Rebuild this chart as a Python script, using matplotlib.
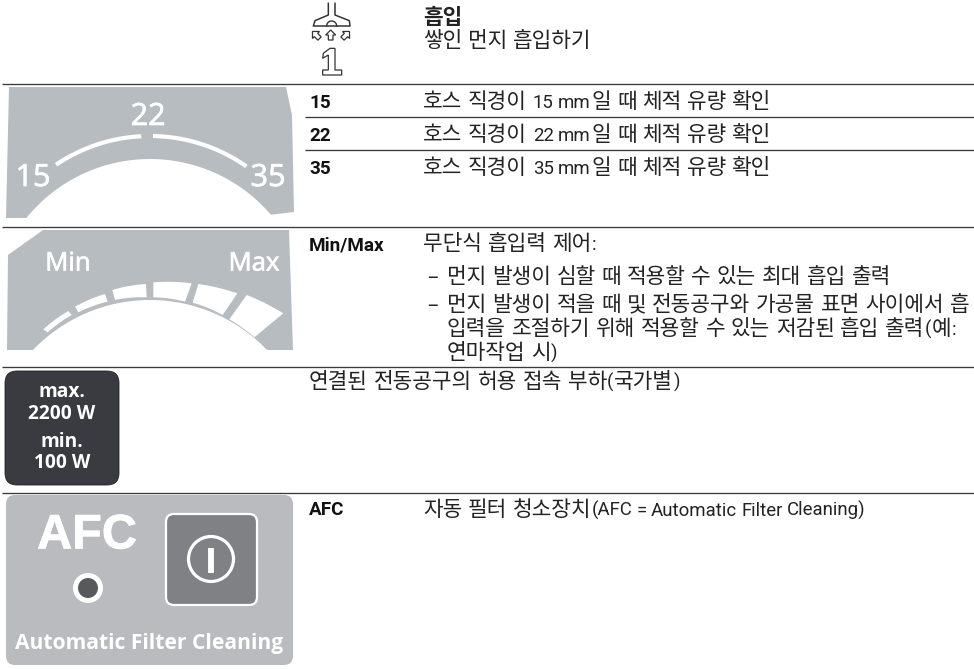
import re
import numpy as np
import matplotlib
matplotlib.use('Agg')
import matplotlib.pyplot as plt
import matplotlib.patheffects as pe
from matplotlib.patches import Polygon, FancyBboxPatch, Circle

KR = ['Noto Sans CJK KR', 'DejaVu Sans']
NARROW = ['Roboto', 'DejaVu Sans']
plt.rcParams['font.family'] = KR

W, H = 974, 669
GREY = '#b7bcc1'
TXT = '#232323'
FS = 15.4

title_kr = '흡입'
sub_kr = '쌓인 먼지 흡입하기'
hose_keys = ['15', '22', '35']
hose_rows = ['호스 직경이 15 mm일 때 체적 유량 확인',
             '호스 직경이 22 mm일 때 체적 유량 확인',
             '호스 직경이 35 mm일 때 체적 유량 확인']
minmax_key = 'Min/Max'
minmax_head = '무단식 흡입력 제어:'
bullet1 = '먼지 발생이 심할 때 적용할 수 있는 최대 흡입 출력'
bullet2 = ['먼지 발생이 적을 때 및 전동공구와 가공물 표면 사이에서 흡',
           '입력을 조절하기 위해 적용할 수 있는 저감된 흡입 출력(예:',
           '연마작업 시)']
power_text = '연결된 전동공구의 허용 접속 부하(국가별)'
power_badge = ['max.', '2200 W', 'min.', '100 W']
afc_key = 'AFC'
afc_text = '자동 필터 청소장치(AFC = Automatic Filter Cleaning)'

fig = plt.figure(figsize=(W / 100, H / 100), dpi=100)
ax = fig.add_axes([0, 0, 1, 1])
ax.set_xlim(0, W)
ax.set_ylim(H, 0)
ax.axis('off')
renderer = fig.canvas.get_renderer()

# ruled lines
for y, x0 in [(83, 2), (116, 305), (149, 305), (226, 2), (366, 2), (492, 2)]:
    ax.plot([x0, W], [y + 0.5, y + 0.5], color='#3a3a3a', lw=0.95, solid_capstyle='butt')


def arc(cx, cy, r, a0, a1, n=60):
    t = np.radians(np.linspace(a0, a1, n))
    return np.c_[cx + r * np.cos(t), cy - r * np.sin(t)]


def crop_poly(points, ox=0, oy=110):
    return [(ox + px / 3, oy + py / 3) for px, py in points]


def bulged(points, lift=1.0):
    # points: outer-left, outer-right, inner-right, inner-left
    a, b, c, d = [np.array(p, float) for p in points]
    out = []
    for p, q in [(a, b), (c, d)]:
        for t in np.linspace(0, 1, 12):
            out.append(p + (q - p) * t + np.array([0, -lift * 4 * t * (1 - t)]))
    return np.array(out)


white_fx = [pe.withStroke(linewidth=0.5, foreground='white')]

# hose gauge
ax.add_patch(Polygon(np.vstack([[[6, 218], [9, 87], [286, 87], [292, 115], [294, 212]],
                                arc(150, 318, 159, 40.5, 141)]),
                     closed=True, fc=GREY, ec='none'))
for a0, a1 in [(124, 93), (89, 55)]:
    pts = arc(150, 304, 168, a0, a1)
    ax.plot(pts[:, 0], pts[:, 1], color='white', lw=3.0, solid_capstyle='butt')
for s, x, y in [('15', 33, 178), ('22', 148, 117), ('35', 268, 178)]:
    ax.text(x, y, s, color='white', ha='center', va='center', fontsize=22,
            family=['Open Sans'], path_effects=white_fx)

# min/max gauge
ax.add_patch(Polygon(np.vstack([[[8, 255], [43, 230], [289, 230], [293, 350], [268, 350]],
                                arc(150, 462, 162, 44, 136), [[33, 350], [7, 350]]]),
                     closed=True, fc=GREY, ec='none'))
for s, x in [('Min', 68), ('Max', 254)]:
    ax.text(x, 264, s, color='white', ha='center', va='center', fontsize=18.5,
            family=['Open Sans'], path_effects=white_fx)
segments = [[(130, 658), (205, 603), (215, 615), (143, 667)],
            [(225, 590), (315, 552), (323, 575), (235, 607)],
            [(337, 540), (438, 522), (440, 562), (345, 570)],
            [(460, 517), (575, 520), (555, 575), (460, 562)],
            [(595, 522), (712, 550), (668, 615), (578, 578)],
            [(740, 555), (850, 610), (763, 682), (688, 628)]]
for seg in segments:
    ax.add_patch(Polygon(bulged(crop_poly(seg)), closed=True, fc='white', ec='none'))

# power badge
ax.add_patch(FancyBboxPatch((5, 371), 114, 114, boxstyle='round,pad=0,rounding_size=12',
                            fc='#3a3b40', ec='#222222', lw=0.6))
for s, y in zip(power_badge, [392, 414, 442, 463]):
    ax.text(62, y, s, color='white', ha='center', va='center', fontsize=13.8,
            family=['Open Sans'], fontweight='bold')

# afc panel
ax.add_patch(FancyBboxPatch((6, 495), 287, 170, boxstyle='round,pad=0,rounding_size=9',
                            fc='#babbbe', ec='none'))
ax.add_patch(FancyBboxPatch((166, 514), 91, 91, boxstyle='round,pad=0,rounding_size=8',
                            fc='#808184', ec='white', lw=1.6))
ax.add_patch(Circle((211, 559), 22.5, fc='none', ec='white', lw=2.3))
ax.plot([211, 211], [548, 573], color='white', lw=4.2, solid_capstyle='butt')
ax.text(87, 536, 'AFC', color='white', ha='center', va='center', fontsize=35,
        family=['Liberation Sans'], fontweight='bold', path_effects=white_fx)
ax.add_patch(Circle((88, 588), 12.5, fc='#58595b', ec='white', lw=3.6))
ax.text(149, 643, 'Automatic Filter Cleaning', color='white', ha='center', va='center',
        fontsize=15.1, family=['Open Sans'], fontweight='bold')

# nozzle icon
ic = '#333333'
ax.plot(*zip(*crop_poly([(85, 10), (85, 45), (45, 62), (40, 78), (150, 78), (148, 62), (105, 45), (105, 10)],
                        300, 0)), color=ic, lw=1.1)
bump = arc(95, 78, 15, 180, 0)
ax.plot(*zip(*crop_poly(bump.tolist(), 300, 0)), color=ic, lw=1.0)
arrow = np.array([(0, -15), (-15, 0), (-7, 0), (-7, 15), (7, 15), (7, 0), (15, 0)], float)
for cx_, ang in [(48, -45), (92, 0), (138, 45)]:
    t = np.radians(ang)
    rot = np.array([[np.cos(t), -np.sin(t)], [np.sin(t), np.cos(t)]])
    pts = (rot @ arrow.T).T + np.array([cx_, 105])
    ax.add_patch(Polygon(crop_poly(pts.tolist(), 300, 0), closed=True, fc='white', ec=ic, lw=0.9))
ax.add_patch(Polygon(crop_poly([(70, 160), (90, 145), (105, 145), (105, 210), (125, 210), (125, 225),
                                (68, 225), (68, 210), (85, 210), (85, 165), (68, 175)], 300, 0),
                     closed=True, fc='white', ec=ic, lw=0.9))


# text placed run by run: Hangul and Latin parts use different fonts
ADV = 0.92 * FS * 100 / 72


def draw_line(x, y, s, weight='normal'):
    runs = re.findall(r'[가-힣]+|[^가-힣 ]+| +', s)
    for i, run in enumerate(runs):
        if run.isspace():
            prev_h = re.search(r'[가-힣]$', runs[i - 1]) is not None
            next_h = re.search(r'^[가-힣]', runs[i + 1]) is not None
            x += 5.6 if prev_h and next_h else (6.0 if prev_h or next_h else 3.2)
        elif re.match(r'[가-힣]', run):
            ax.text(x, y, run, fontsize=FS, color=TXT, va='baseline', ha='left', fontweight=weight)
            x += ADV * len(run)
        else:
            t = ax.text(x, y, run, fontsize=13.4, color=TXT, va='baseline', ha='left', family=NARROW)
            x += t.get_window_extent(renderer).width + 1.0


def draw_key(x, y, s):
    ax.text(x, y, s, fontsize=13.6, fontweight='bold', color='#111111', va='baseline', ha='left',
            family=NARROW)


draw_line(423, 24, title_kr, weight='bold')
draw_line(423, 47, sub_kr)
for k, s, y in zip(hose_keys, hose_rows, [108, 141, 174]):
    draw_key(309, y, k)
    draw_line(423, y, s)
draw_key(309, 250, minmax_key)
draw_line(423, 250, minmax_head)
ax.text(427, 283, '–', fontsize=FS - 1, color=TXT, va='baseline', ha='left')
draw_line(447, 283, bullet1)
ax.text(427, 311, '–', fontsize=FS - 1, color=TXT, va='baseline', ha='left')
for s, y in zip(bullet2, [311, 335, 359]):
    draw_line(447, y, s)
draw_line(309, 388, power_text)
draw_key(309, 515, afc_key)
draw_line(423, 516, afc_text)

fig.savefig('out.png', dpi=100)
